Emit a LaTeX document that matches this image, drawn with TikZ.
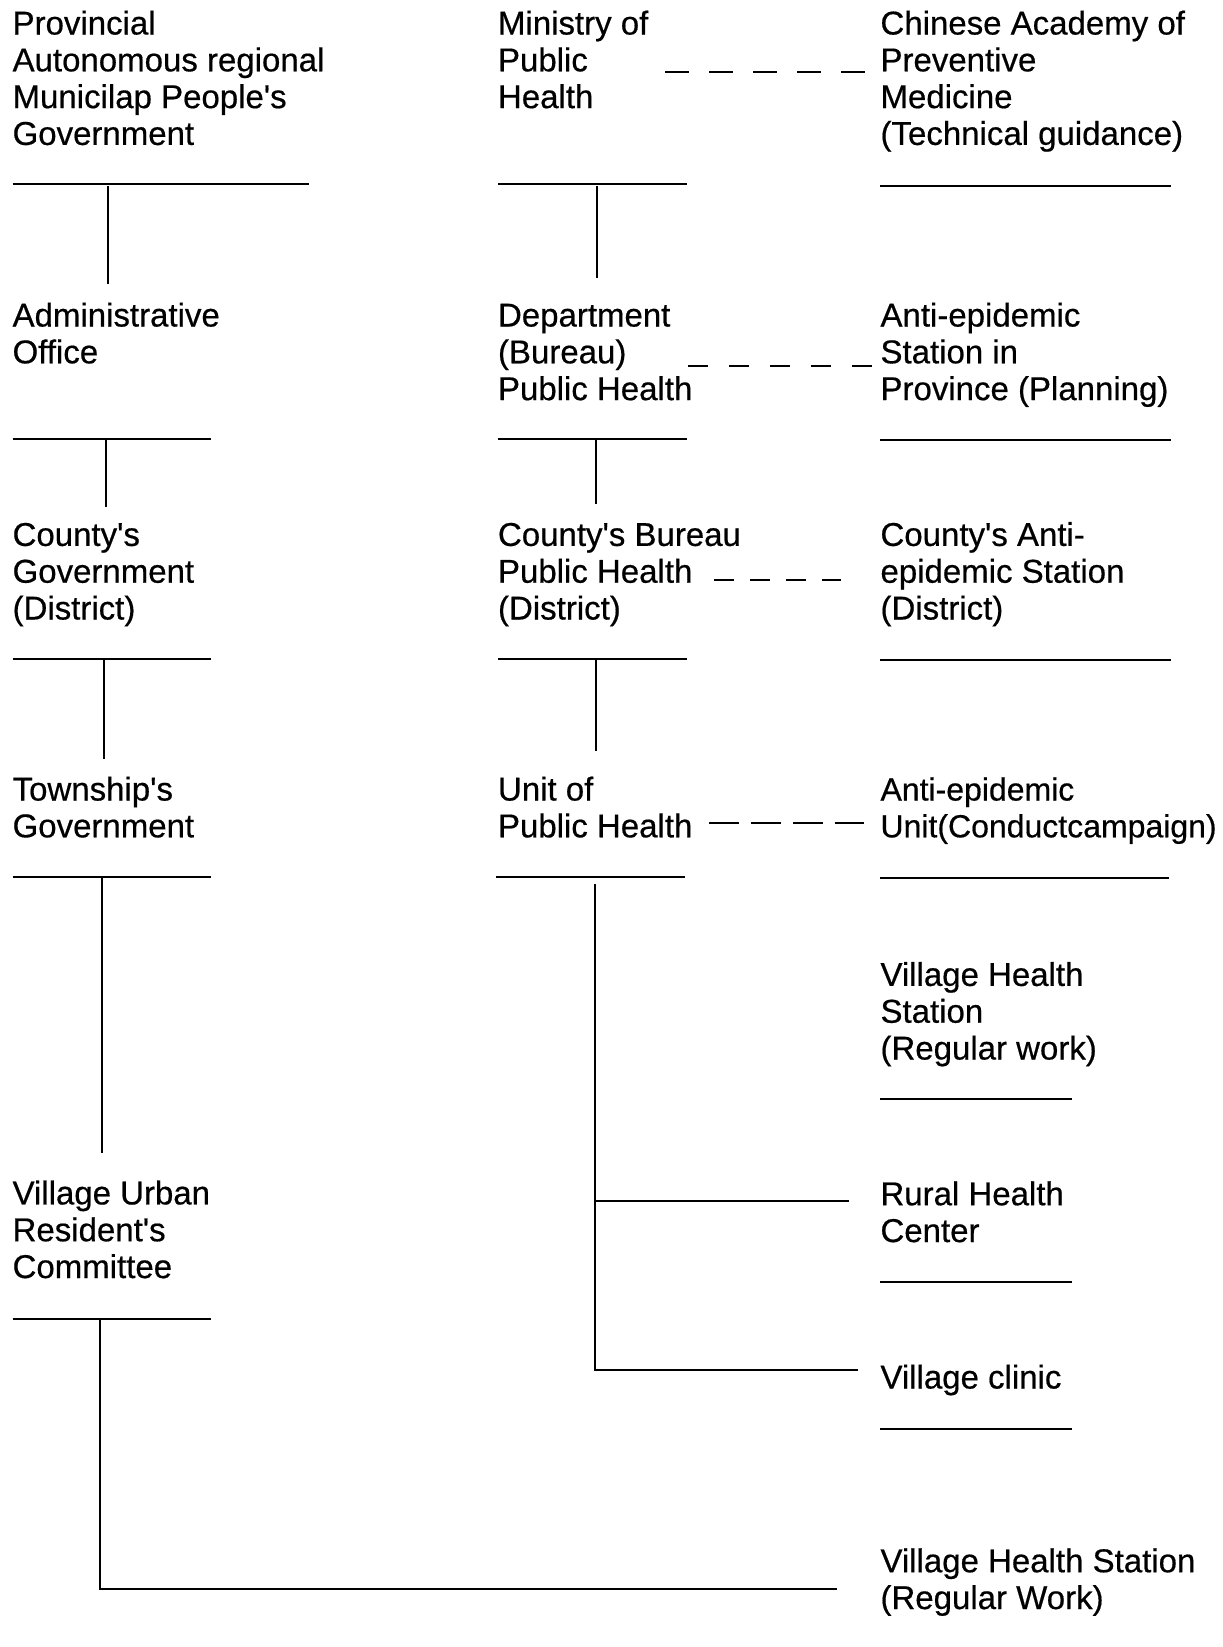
\documentclass[tikz,border=0pt]{standalone}
\usepackage{fontspec}
\setmainfont{Liberation Sans}
\newcommand{\apos}{\textquotesingle}
\begin{document}
\begin{tikzpicture}[x=1pt,y=-1pt,
  lbl/.style={anchor=base west,inner sep=0pt,outer sep=0pt,align=left,font=\fontsize{33}{36.8}\selectfont\addfontfeature{FakeBold=0.5}},
  lblsm/.style={lbl,font=\fontsize{32}{36.8}\selectfont\addfontfeature{FakeBold=0.5}},
  rulel/.style={line width=2.2pt},
  conn/.style={line width=1.6pt},
  dsh/.style={line width=2pt}]
\useasboundingbox (0,0) rectangle (1223,1647);
% ---------- texts (anchored at the baseline of their last line) ----------
\node[lbl] (prov) at (12.6,144.9) {Provincial\\Autonomous regional\\Municilap People\apos s\\Government};
\node[lbl] (min)  at (498,108.1) {Ministry of\\Public\\Health};
\node[lbl] (cap)  at (880.5,144.9) {Chinese Academy of\\Preventive\\Medicine\\(Technical guidance)};
\node[lbl] (adm)  at (12.6,363.3) {Administrative\\Office};
\node[lbl] (dept) at (498,400.1) {Department\\(Bureau)\\Public Health};
\node[lbl] (aes)  at (880.5,400.1) {Anti-epidemic\\Station in\\Province (Planning)};
\node[lbl] (cgov) at (12.6,619.5) {County\apos s\\Government\\(District)};
\node[lbl] (cbur) at (498,619.5) {County\apos s Bureau\\Public Health\\(District)};
\node[lbl] (caes) at (880.5,619.5) {County\apos s Anti-\\epidemic Station\\(District)};
\node[lbl] (town) at (12.6,837.3) {Township\apos s\\Government};
\node[lbl] (unit) at (498,837.3) {Unit of\\Public Health};
\node[lblsm] (aeu)  at (880.5,837.3) {Anti-epidemic\\Unit(Conductcampaign)};
\node[lbl] (vhs1) at (880.5,1059.5) {Village Health\\Station\\(Regular work)};
\node[lbl] (rhc)  at (880.5,1242) {Rural Health\\Center};
\node[lbl] (vcl)  at (880.5,1388.5) {Village clinic};
\node[lbl] (vurc) at (12.6,1278) {Village Urban\\Resident\apos s\\Committee};
\node[lbl] (vhs2) at (880.5,1609) {Village Health Station\\(Regular Work)};
% ---------- rules under the texts ----------
\draw[rulel] (12.6,184) -- (309,184);
\draw[rulel] (498,184) -- (687,184);
\draw[rulel] (880,186) -- (1171,186);
\draw[rulel] (12.6,439) -- (211,439);
\draw[rulel] (498,439) -- (687,439);
\draw[rulel] (880,440) -- (1171,440);
\draw[rulel] (12.6,659) -- (211,659);
\draw[rulel] (498,659) -- (687,659);
\draw[rulel] (880,660) -- (1171,660);
\draw[rulel] (12.6,877) -- (211,877);
\draw[rulel] (496,877) -- (685,877);
\draw[rulel] (880,878) -- (1169,878);
\draw[rulel] (880,1099) -- (1072,1099);
\draw[rulel] (880,1282) -- (1072,1282);
\draw[rulel] (880,1429) -- (1072,1429);
\draw[rulel] (12.6,1319) -- (211,1319);
% ---------- connector end points ----------
\coordinate (p1a) at (108,186);  \coordinate (p1b) at (108,284);
\coordinate (p2a) at (106,440);  \coordinate (p2b) at (106,507);
\coordinate (p3a) at (104,660);  \coordinate (p3b) at (104,759);
\coordinate (p4a) at (102,878);  \coordinate (p4b) at (102,1153);
\coordinate (p5a) at (100,1320); \coordinate (p5c) at (100,1589); \coordinate (p5b) at (837,1589);
\coordinate (m1a) at (597,186);  \coordinate (m1b) at (597,278);
\coordinate (m2a) at (596,440);  \coordinate (m2b) at (596,504);
\coordinate (m3a) at (596,660);  \coordinate (m3b) at (596,751);
\coordinate (m4a) at (595,884);  \coordinate (m4c) at (595,1370); \coordinate (m4b) at (858,1370);
\coordinate (m5a) at (595,1201); \coordinate (m5b) at (849,1201);
\coordinate (d1a) at (665,71.5); \coordinate (d1b) at (868,71.5);
\coordinate (d2a) at (688,366);  \coordinate (d2b) at (872,366);
\coordinate (d3a) at (714,580);  \coordinate (d3b) at (841,580);
\coordinate (d4a) at (709,823);  \coordinate (d4b) at (864,823);
% ---------- connectors ----------
\draw[conn] (p1a) -- (p1b);
\draw[conn] (p2a) -- (p2b);
\draw[conn] (p3a) -- (p3b);
\draw[conn] (p4a) -- (p4b);
\draw[conn] (p5a) -- (p5c) -- (p5b);
\draw[conn] (m1a) -- (m1b);
\draw[conn] (m2a) -- (m2b);
\draw[conn] (m3a) -- (m3b);
\draw[conn] (m4a) -- (m4c) -- (m4b);
\draw[conn] (m5a) -- (m5b);
\draw[dsh,dash pattern=on 24pt off 20pt] (d1a) -- (d1b);
\draw[dsh,dash pattern=on 20pt off 21pt] (d2a) -- (d2b);
\draw[dsh,dash pattern=on 20pt off 16pt] (d3a) -- (d3b);
\draw[dsh,dash pattern=on 30pt off 12pt] (d4a) -- (d4b);
\end{tikzpicture}
\end{document}
